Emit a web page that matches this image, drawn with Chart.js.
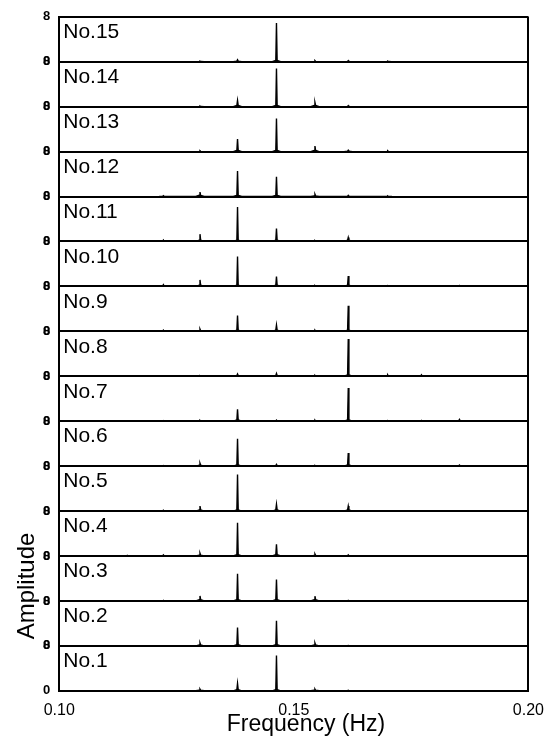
<!DOCTYPE html>
<html>
<head>
<meta charset="utf-8">
<script src="https://cdn.jsdelivr.net/npm/chart.js@4.4.1/dist/chart.umd.min.js"></script>
<style>
  html, body { margin: 0; padding: 0; background: #fff; }
  #wrap { width: 554px; height: 741px; }
</style>
</head>
<body>
<div id="wrap"><canvas id="spectra" width="554" height="741"></canvas></div>
<script>
// frequencies (Hz) of the spectral lines seen across the runs
const peakFreqs = [0.1145, 0.1222, 0.1300, 0.1380, 0.1463, 0.1545, 0.1616, 0.1700, 0.1772, 0.1853];

// line amplitudes for each run, same order as peakFreqs
const no1  = [0,   0,    0.3,  1.3,  6.3,  0.3,  0.1,  0,    0,    0];
const no2  = [0,   0,    0.5,  3.25, 4.45, 0.5,  0.05, 0,    0,    0];
const no3  = [0,   0.1,  0.9,  4.85, 3.8,  0.85, 0.1,  0,    0,    0];
const no4  = [0.1, 0.2,  0.5,  5.9,  2.1,  0.35, 0.2,  0,    0,    0];
const no5  = [0,   0.15, 0.9,  6.5,  1.2,  0,    0.9,  0,    0,    0];
const no6  = [0,   0.1,  0.5,  4.85, 0.3,  0.1,  2.35, 0,    0,    0.2];
const no7  = [0,   0.1,  0.15, 2.1,  0.2,  0.2,  5.9,  0.1,  0.15, 0.3];
const no8  = [0,   0.1,  0.1,  0.4,  0.5,  0.15, 6.65, 0.25, 0.25, 0];
const no9  = [0,   0.2,  0.4,  2.8,  1.1,  0.2,  4.55, 0,    0.1,  0.1];
const no10 = [0.1, 0.3,  1.15, 5.3,  1.75, 0.15, 1.85, 0.1,  0.1,  0.15];
const no11 = [0.1, 0.25, 1.3,  6.15, 2.3,  0.15, 0.7,  0,    0,    0];
const no12 = [0,   0.15, 0.8,  4.55, 3.5,  0.4,  0.2,  0.1,  0,    0];
const no13 = [0,   0,    0.15, 2.25, 5.9,  1.0,  0.25, 0.15, 0,    0];
const no14 = [0,   0,    0.1,  1.1,  6.8,  0.75, 0.2,  0,    0,    0];
const no15 = [0,   0,    0.1,  0.35, 6.9,  0.2,  0.2,  0.1,  0,    0];

const runs = [no1, no2, no3, no4, no5, no6, no7, no8, no9, no10, no11, no12, no13, no14, no15];
const runLabels = runs.map((_, i) => `No.${i + 1}`);

const xTicks = [0.10, 0.15, 0.20];
const ampTicks = [0, 8];

const FONT = '"Liberation Sans", Arial, Helvetica, sans-serif';

// each line is drawn as a thin spike with a small skirt at its foot
function spikePoints(amps) {
  const pts = [];
  peakFreqs.forEach((f, i) => {
    const a = amps[i];
    if (!a) return;
    const skirt = Math.min(0.22, a * 0.3);
    pts.push({ x: f - 0.0009, y: 0 });
    pts.push({ x: f - 0.00014, y: skirt });
    pts.push({ x: f, y: a });
    pts.push({ x: f + 0.00014, y: skirt });
    pts.push({ x: f + 0.0009, y: 0 });
  });
  return pts;
}

const panelLabels = {
  id: "panelLabels",
  afterDraw(chart) {
    const { ctx, chartArea } = chart;
    ctx.save();
    ctx.fillStyle = "#000";
    ctx.font = `21px ${FONT}`;
    ctx.textAlign = "left";
    ctx.textBaseline = "top";
    runLabels.forEach((label, i) => {
      const scale = chart.scales[`y${i + 1}`];
      ctx.fillText(label, chartArea.left + 4, scale.top + 5);
    });

    // x axis title sits a little right of centre
    ctx.font = `23px ${FONT}`;
    ctx.textAlign = "center";
    ctx.textBaseline = "alphabetic";
    ctx.fillText("Frequency (Hz)", 306, 731);

    // y axis title, set low beside the bottom panels
    ctx.translate(27, 586);
    ctx.rotate(-Math.PI / 2);
    ctx.font = `24px ${FONT}`;
    ctx.textBaseline = "middle";
    ctx.fillText("Amplitude", 0, 0);
    ctx.restore();
  },
};

const scales = {
  x: {
    type: "linear",
    min: xTicks[0],
    max: xTicks[xTicks.length - 1],
    afterBuildTicks(scale) {
      scale.ticks = xTicks.map((value) => ({ value }));
    },
    ticks: {
      color: "#000",
      font: { family: FONT, size: 16 },
      padding: 10,
      maxRotation: 0,
      callback: (value) => Number(value).toFixed(2),
    },
    grid: {
      drawTicks: false,
      lineWidth: 2,
      color: (c) => (c.tick && Math.abs(c.tick.value - 0.2) < 1e-9 ? "#000" : "transparent"),
    },
    border: { display: true, color: "#000", width: 2 },
  },
};

// one stacked y axis per run; the first one defined sits at the bottom
for (let i = 1; i <= runs.length; i++) {
  scales[`y${i}`] = {
    type: "linear",
    position: "left",
    stack: "runs",
    stackWeight: 1,
    min: ampTicks[0],
    max: ampTicks[1],
    afterBuildTicks(scale) {
      scale.ticks = ampTicks.map((value) => ({ value }));
    },
    ticks: {
      color: "#000",
      font: { family: FONT, size: 13, weight: "bold" },
      padding: 9,
    },
    grid: { drawTicks: false, color: "#000", lineWidth: 2 },
    border: { display: true, color: "#000", width: 2 },
  };
}

new Chart(document.getElementById("spectra"), {
  type: "line",
  plugins: [panelLabels],
  data: {
    datasets: runs.map((amps, i) => ({
      label: runLabels[i],
      yAxisID: `y${i + 1}`,
      data: spikePoints(amps),
      borderColor: "#000",
      backgroundColor: "#000",
      borderWidth: 1.4,
      fill: "origin",
      pointRadius: 0,
      tension: 0,
    })),
  },
  options: {
    responsive: false,
    animation: false,
    layout: { padding: { top: 9, right: 24, left: 43, bottom: 11 } },
    plugins: {
      legend: { display: false },
      tooltip: { enabled: false },
    },
    scales,
  },
});
</script>
</body>
</html>
